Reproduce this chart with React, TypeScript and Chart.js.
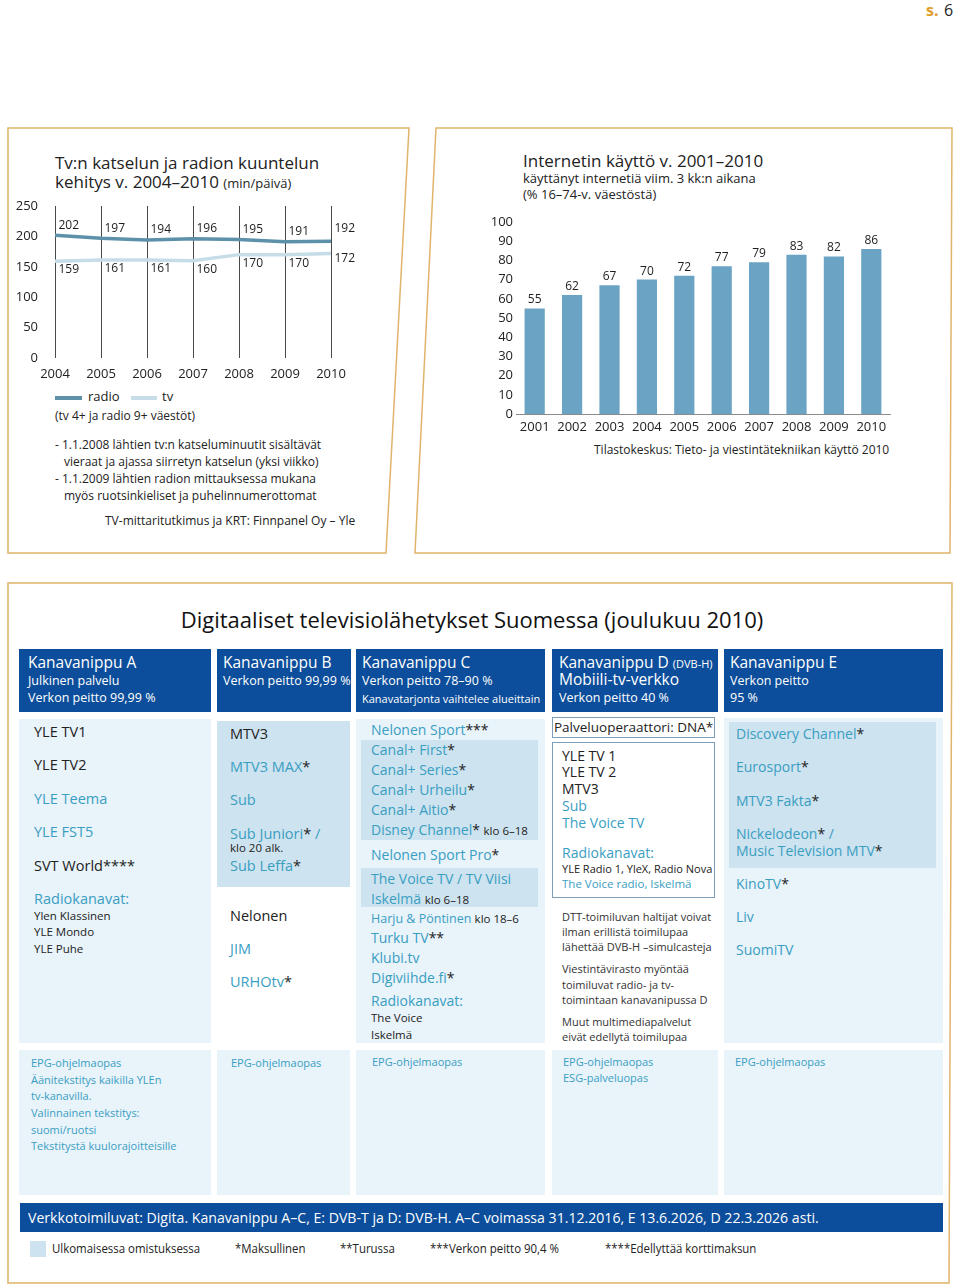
import React, { useEffect, useRef } from "react";
import { Chart, registerables } from "chart.js";

Chart.register(...registerables);

// ---------- data ----------
const tvYears = ["2004", "2005", "2006", "2007", "2008", "2009", "2010"];
const radioMinutes = [202, 197, 194, 196, 195, 191, 192];
const tvMinutes = [159, 161, 161, 160, 170, 170, 172];
const minuteTicks = [0, 50, 100, 150, 200, 250];

const netYears = ["2001", "2002", "2003", "2004", "2005", "2006", "2007", "2008", "2009", "2010"];
const netUsers = [55, 62, 67, 70, 72, 77, 79, 83, 82, 86];
const percentTicks = [0, 10, 20, 30, 40, 50, 60, 70, 80, 90, 100];

// ---------- style ----------
const FONT = "'Open Sans', sans-serif";
const DARK = "#222222";
const TEAL = "#3a9ec2";
const LIGHT = "#e8f3fa";
const MID = "#cde3ef";
const BLUE = "#0c4e9b";
const GOLD = "#e0b46a";
const RADIO = "#5d91aa";
const TVC = "#c6dde8";
const BAR = "#6aa3c3";

function LineChart() {
  const ref = useRef<HTMLCanvasElement>(null);
  useEffect(() => {
    const labels = {
      id: "pointLabels",
      afterDatasetsDraw(chart: any) {
        const ctx = chart.ctx;
        ctx.save();
        ctx.font = `12px ${FONT}`;
        ctx.fillStyle = "#1e1e1e";
        ctx.textAlign = "left";
        ctx.textBaseline = "middle";
        chart.data.datasets.forEach((ds: any, di: number) => {
          const meta = chart.getDatasetMeta(di);
          meta.data.forEach((pt: any, i: number) => {
            const last = i === meta.data.length - 1;
            const dy = di === 0 ? (last ? -13 : -10) : last ? 5.5 : 8.5;
            ctx.fillText(String(ds.data[i]), pt.x + 3.5, pt.y + dy);
          });
        });
        ctx.restore();
      },
    };
    const chart = new Chart(ref.current as HTMLCanvasElement, {
      type: "line",
      data: {
        labels: tvYears,
        datasets: [
          { label: "radio", data: radioMinutes, borderColor: RADIO, borderWidth: 3.5, pointRadius: 0, tension: 0 },
          { label: "tv", data: tvMinutes, borderColor: TVC, borderWidth: 3.5, pointRadius: 0, tension: 0 },
        ],
      },
      options: {
        animation: false,
        responsive: false,
        maintainAspectRatio: false,
        layout: { padding: { left: 0, top: 30, right: 29, bottom: 0 } },
        plugins: { legend: { display: false }, tooltip: { enabled: false } },
        scales: {
          x: {
            grid: { display: true, color: "#4a4a4a", lineWidth: 1, drawTicks: false },
            border: { display: false },
            ticks: { padding: 8, color: DARK, font: { family: FONT, size: 13 }, maxRotation: 0, autoSkip: false },
            afterFit: (s: any) => { s.height = 28; },
          },
          y: {
            min: 0,
            max: 250,
            grid: { display: false },
            border: { display: false },
            ticks: { padding: 9, color: DARK, font: { family: FONT, size: 13 } },
            afterBuildTicks: (s: any) => { s.ticks = minuteTicks.map((v) => ({ value: v })); },
            afterFit: (s: any) => { s.width = 55; },
          },
        },
      } as any,
      plugins: [labels],
    });
    return () => chart.destroy();
  }, []);
  return (
    <canvas ref={ref} width={360} height={210}
      style={{ position: "absolute", left: 0, top: 176, width: 360, height: 210 }} />
  );
}

function BarChart() {
  const ref = useRef<HTMLCanvasElement>(null);
  useEffect(() => {
    const labels = {
      id: "barLabels",
      afterDatasetsDraw(chart: any) {
        const ctx = chart.ctx;
        ctx.save();
        ctx.font = `12px ${FONT}`;
        ctx.fillStyle = "#1e1e1e";
        ctx.textAlign = "center";
        ctx.textBaseline = "middle";
        const meta = chart.getDatasetMeta(0);
        meta.data.forEach((bar: any, i: number) => {
          ctx.fillText(String(chart.data.datasets[0].data[i]), bar.x, bar.y - 8.5);
        });
        ctx.restore();
      },
    };
    const chart = new Chart(ref.current as HTMLCanvasElement, {
      type: "bar",
      data: {
        labels: netYears,
        datasets: [{ label: "internet", data: netUsers, backgroundColor: BAR, barPercentage: 0.54, categoryPercentage: 1 }],
      },
      options: {
        animation: false,
        responsive: false,
        maintainAspectRatio: false,
        layout: { padding: { left: 0, top: 22, right: 10, bottom: 0 } },
        plugins: { legend: { display: false }, tooltip: { enabled: false } },
        scales: {
          x: {
            grid: { display: false, drawTicks: false },
            border: { display: true, color: "#8c8c8c", width: 1 },
            ticks: { padding: 5, color: DARK, font: { family: FONT, size: 13 }, maxRotation: 0, autoSkip: false },
            afterFit: (s: any) => { s.height = 26; },
          },
          y: {
            min: 0,
            max: 100,
            grid: { display: false, drawTicks: false },
            border: { display: false },
            ticks: { padding: 3, color: DARK, font: { family: FONT, size: 13 } },
            afterBuildTicks: (s: any) => { s.ticks = percentTicks.map((v) => ({ value: v })); },
            afterFit: (s: any) => { s.width = 46; },
          },
        },
      } as any,
      plugins: [labels],
    });
    return () => chart.destroy();
  }, []);
  return (
    <canvas ref={ref} width={430} height={240}
      style={{ position: "absolute", left: 470, top: 200, width: 430, height: 240 }} />
  );
}

type TP = { x: number; y: number; s?: number; c?: string; b?: boolean; sx?: number; children?: any };
const T = ({ x, y, s = 13, c = DARK, b, sx, children }: TP) => (
  <div
    style={{
      position: "absolute",
      left: x,
      top: y - s * 0.58,
      fontSize: s,
      lineHeight: `${s * 1.1}px`,
      color: c,
      whiteSpace: "nowrap",
      fontWeight: b ? 700 : 400,
      transform: sx ? `scaleX(${sx})` : undefined,
      transformOrigin: "left center",
    }}
  >
    {children}
  </div>
);

const Box = ({ x, y, w, h, bg, border }: { x: number; y: number; w: number; h: number; bg?: string; border?: string }) => (
  <div style={{ position: "absolute", left: x, top: y, width: w, height: h, background: bg, border, boxSizing: "border-box" }} />
);

const St = ({ n = 1 }: { n?: number }) => <span style={{ color: DARK }}>{"*".repeat(n)}</span>;
const Sm = ({ children, s = 11.5 }: { children: any; s?: number }) => <span style={{ color: DARK, fontSize: s }}>{children}</span>;

export default function App() {
  const CH = 14.5; // channel font size
  const CC = 14; // column C / D size
  return (
    <div style={{ position: "absolute", left: 0, top: 0, width: 960, height: 1287, background: "#fff", fontFamily: FONT, overflow: "hidden" }}>
      <svg width={960} height={1287} style={{ position: "absolute", left: 0, top: 0 }}>
        <polygon points="8,128 409,128 386,553 8,553" fill="none" stroke={GOLD} strokeWidth={1.5} />
        <polygon points="436,128 952,128 950,553 415,553" fill="none" stroke={GOLD} strokeWidth={1.5} />
        <polygon points="8,583 952,583 949,1283 8,1283" fill="none" stroke={GOLD} strokeWidth={1.5} />
      </svg>

      {/* page number */}
      <T x={926} y={11} s={16} c="#e0a030" b>s.</T>
      <T x={944} y={11} s={16} c={DARK}>6</T>

      {/* ---------- left panel ---------- */}
      <T x={55} y={164} s={17}>Tv:n katselun ja radion kuuntelun</T>
      <T x={55} y={183} s={17}>kehitys v. 2004–2010 <span style={{ fontSize: 13 }}>(min/päivä)</span></T>
      <LineChart />
      <div style={{ position: "absolute", left: 55, top: 396, width: 27, height: 3.5, background: RADIO }} />
      <T x={88} y={397} s={13}>radio</T>
      <div style={{ position: "absolute", left: 131, top: 396, width: 26, height: 3.5, background: TVC }} />
      <T x={162} y={397} s={13}>tv</T>
      <T x={55} y={416} s={12}>(tv 4+ ja radio 9+ väestöt)</T>
      <T x={55} y={445} s={12}>- 1.1.2008 lähtien tv:n katseluminuutit sisältävät</T>
      <T x={64} y={462} s={12}>vieraat ja ajassa siirretyn katselun (yksi viikko)</T>
      <T x={55} y={479} s={12}>- 1.1.2009 lähtien radion mittauksessa mukana</T>
      <T x={64} y={496} s={12}>myös ruotsinkieliset ja puhelinnumerottomat</T>
      <T x={105} y={521} s={12}>TV-mittaritutkimus ja KRT: Finnpanel Oy – Yle</T>

      {/* ---------- right panel ---------- */}
      <T x={523} y={162} s={17}>Internetin käyttö v. 2001–2010</T>
      <T x={523} y={179} s={13}>käyttänyt internetiä viim. 3 kk:n aikana</T>
      <T x={523} y={195} s={13}>(% 16–74-v. väestöstä)</T>
      <BarChart />
      <T x={594} y={450} s={12}>Tilastokeskus: Tieto- ja viestintätekniikan käyttö 2010</T>

      {/* ---------- bottom panel ---------- */}
      <div style={{ position: "absolute", left: 72, width: 800, top: 619.5 - 22 * 0.58, fontSize: 22, lineHeight: `${22 * 1.1}px`, textAlign: "center", color: "#111", whiteSpace: "nowrap" }}>
        Digitaaliset televisiolähetykset Suomessa (joulukuu 2010)
      </div>

      {/* headers */}
      <Box x={19} y={649} w={192} h={63} bg={BLUE} />
      <Box x={217} y={649} w={134} h={63} bg={BLUE} />
      <Box x={356} y={649} w={189} h={63} bg={BLUE} />
      <Box x={552} y={649} w={166} h={63} bg={BLUE} />
      <Box x={724} y={649} w={219} h={63} bg={BLUE} />

      <T x={28} y={663} s={15.5} c="#fff">Kanavanippu A</T>
      <T x={28} y={681.5} s={12.5} c="#fff">Julkinen palvelu</T>
      <T x={28} y={698} s={12.5} c="#fff">Verkon peitto 99,99 %</T>
      <T x={223} y={663} s={15.5} c="#fff">Kanavanippu B</T>
      <T x={223} y={681.5} s={12.5} c="#fff">Verkon peitto 99,99 %</T>
      <T x={362} y={663} s={15.5} c="#fff">Kanavanippu C</T>
      <T x={362} y={681.5} s={12.5} c="#fff">Verkon peitto 78–90 %</T>
      <T x={362} y={699} s={11} c="#fff">Kanavatarjonta vaihtelee alueittain</T>
      <T x={559} y={663} s={15.5} c="#fff">Kanavanippu D <span style={{ fontSize: 11 }}>(DVB-H)</span></T>
      <T x={559} y={680} s={15.5} c="#fff">Mobiili-tv-verkko</T>
      <T x={559} y={698} s={12.5} c="#fff">Verkon peitto 40 %</T>
      <T x={730} y={663} s={15.5} c="#fff">Kanavanippu E</T>
      <T x={730} y={681.5} s={12.5} c="#fff">Verkon peitto</T>
      <T x={730} y={698} s={12.5} c="#fff">95 %</T>

      {/* body cells */}
      <Box x={19} y={719} w={192} h={324} bg={LIGHT} />
      <Box x={217} y={721} w={133} h={166} bg={MID} />
      <Box x={356} y={719} w={189} h={324} bg={LIGHT} />
      <Box x={361} y={740} w={177} h={100} bg={MID} />
      <Box x={361} y={868} w={177} h={39} bg={MID} />
      <Box x={552} y={717} w={163} h={21} border="1px solid #7d9db8" />
      <Box x={552} y={742} w={163} h={156} border="1px solid #7d9db8" />
      <Box x={724} y={718} w={219} h={325} bg={LIGHT} />
      <Box x={729} y={722} w={207} h={146} bg={MID} />

      {/* column A */}
      <T x={34} y={732} s={CH}>YLE TV1</T>
      <T x={34} y={765.5} s={CH}>YLE TV2</T>
      <T x={34} y={799} s={CH} c={TEAL}>YLE Teema</T>
      <T x={34} y={832} s={CH} c={TEAL}>YLE FST5</T>
      <T x={34} y={866} s={CH}>SVT World****</T>
      <T x={34} y={899} s={CH} c={TEAL}>Radiokanavat:</T>
      <T x={34} y={916.5} s={11.5}>Ylen Klassinen</T>
      <T x={34} y={933} s={11.5}>YLE Mondo</T>
      <T x={34} y={950} s={11.5}>YLE Puhe</T>

      {/* column B */}
      <T x={230} y={734} s={CH}>MTV3</T>
      <T x={230} y={767} s={CH} c={TEAL}>MTV3 MAX<St /></T>
      <T x={230} y={800.5} s={CH} c={TEAL}>Sub</T>
      <T x={230} y={834} s={CH} c={TEAL}>Sub Juniori<St /> /</T>
      <T x={230} y={848.5} s={11.5}>klo 20 alk.</T>
      <T x={230} y={866} s={CH} c={TEAL}>Sub Leffa<St /></T>
      <T x={230} y={916} s={CH}>Nelonen</T>
      <T x={230} y={949} s={CH} c={TEAL}>JIM</T>
      <T x={230} y={982} s={CH} c={TEAL}>URHOtv<St /></T>

      {/* column C */}
      <T x={371} y={730.5} s={CC} c={TEAL}>Nelonen Sport<St n={3} /></T>
      <T x={371} y={750.5} s={CC} c={TEAL}>Canal+ First<St /></T>
      <T x={371} y={770.5} s={CC} c={TEAL}>Canal+ Series<St /></T>
      <T x={371} y={790.5} s={CC} c={TEAL}>Canal+ Urheilu<St /></T>
      <T x={371} y={810.5} s={CC} c={TEAL}>Canal+ Aitio<St /></T>
      <T x={371} y={830.5} s={CC} c={TEAL}>Disney Channel<St /> <Sm>klo 6–18</Sm></T>
      <T x={371} y={855} s={CC} c={TEAL}>Nelonen Sport Pro<St /></T>
      <T x={371} y={879} s={CC} c={TEAL}>The Voice TV / TV Viisi</T>
      <T x={371} y={899} s={CC} c={TEAL}>Iskelmä <Sm>klo 6–18</Sm></T>
      <T x={371} y={919} s={12.5} c={TEAL}>Harju &amp; Pöntinen <Sm s={11.5}>klo 18–6</Sm></T>
      <T x={371} y={938.5} s={CC} c={TEAL}>Turku TV<St n={2} /></T>
      <T x={371} y={958} s={CC} c={TEAL}>Klubi.tv</T>
      <T x={371} y={978} s={CC} c={TEAL}>Digiviihde.fi<St /></T>
      <T x={371} y={1001} s={CC} c={TEAL}>Radiokanavat:</T>
      <T x={371} y={1019} s={11.5}>The Voice</T>
      <T x={371} y={1036} s={11.5}>Iskelmä</T>

      {/* column D */}
      <T x={554} y={728} s={13.5}>Palveluoperaattori: DNA*</T>
      <T x={562} y={756} s={CC}>YLE TV 1</T>
      <T x={562} y={772.5} s={CC}>YLE TV 2</T>
      <T x={562} y={789.5} s={CC}>MTV3</T>
      <T x={562} y={806} s={CC} c={TEAL}>Sub</T>
      <T x={562} y={823} s={CC} c={TEAL}>The Voice TV</T>
      <T x={562} y={853} s={CC} c={TEAL}>Radiokanavat:</T>
      <T x={562} y={869.5} s={11}>YLE Radio 1, YleX, Radio Nova</T>
      <T x={562} y={885} s={11.5} c={TEAL}>The Voice radio, Iskelmä</T>
      <T x={562} y={917} s={11} c="#333">DTT-toimiluvan haltijat voivat</T>
      <T x={562} y={932} s={11} c="#333">ilman erillistä toimilupaa</T>
      <T x={562} y={947.5} s={11} c="#333">lähettää DVB-H –simulcasteja</T>
      <T x={562} y={969.5} s={11} c="#333">Viestintävirasto myöntää</T>
      <T x={562} y={985.5} s={11} c="#333">toimiluvat radio- ja tv-</T>
      <T x={562} y={1000.5} s={11} c="#333">toimintaan kanavanipussa D</T>
      <T x={562} y={1022.5} s={11} c="#333">Muut multimediapalvelut</T>
      <T x={562} y={1037.5} s={11} c="#333">eivät edellytä toimilupaa</T>

      {/* column E */}
      <T x={736} y={734} s={CC} c={TEAL}>Discovery Channel<St /></T>
      <T x={736} y={767.5} s={CC} c={TEAL}>Eurosport<St /></T>
      <T x={736} y={801} s={CC} c={TEAL}>MTV3 Fakta<St /></T>
      <T x={736} y={834} s={CC} c={TEAL}>Nickelodeon<St /> /</T>
      <T x={736} y={851} s={CC} c={TEAL}>Music Television MTV<St /></T>
      <T x={736} y={884} s={CC} c={TEAL}>KinoTV<St /></T>
      <T x={736} y={917} s={CC} c={TEAL}>Liv</T>
      <T x={736} y={950} s={CC} c={TEAL}>SuomiTV</T>

      {/* footer cells */}
      <Box x={19} y={1050} w={192} h={145} bg={LIGHT} />
      <Box x={217} y={1050} w={133} h={145} bg={LIGHT} />
      <Box x={356} y={1050} w={189} h={145} bg={LIGHT} />
      <Box x={552} y={1050} w={166} h={145} bg={LIGHT} />
      <Box x={724} y={1050} w={219} h={145} bg={LIGHT} />
      <T x={31} y={1063} s={11} c={TEAL}>EPG-ohjelmaopas</T>
      <T x={31} y={1080} s={11} c={TEAL}>Äänitekstitys kaikilla YLEn</T>
      <T x={31} y={1096.5} s={11} c={TEAL}>tv-kanavilla.</T>
      <T x={31} y={1113.5} s={11} c={TEAL}>Valinnainen tekstitys:</T>
      <T x={31} y={1130} s={11} c={TEAL}>suomi/ruotsi</T>
      <T x={31} y={1146.5} s={11} c={TEAL}>Tekstitystä kuulorajoitteisille</T>
      <T x={231} y={1063} s={11} c={TEAL}>EPG-ohjelmaopas</T>
      <T x={372} y={1062.5} s={11} c={TEAL}>EPG-ohjelmaopas</T>
      <T x={563} y={1062.5} s={11} c={TEAL}>EPG-ohjelmaopas</T>
      <T x={563} y={1078} s={11} c={TEAL}>ESG-palveluopas</T>
      <T x={735} y={1062} s={11} c={TEAL}>EPG-ohjelmaopas</T>

      {/* banner */}
      <Box x={20} y={1203} w={923} h={29} bg={BLUE} />
      <T x={28} y={1218} s={15} c="#fff" sx={0.94}>
        Verkkotoimiluvat: Digita. Kanavanippu A–C, E: DVB-T ja D: DVB-H. A–C voimassa 31.12.2016, E 13.6.2026, D 22.3.2026 asti.
      </T>

      {/* legend */}
      <Box x={30} y={1241} w={16} h={16} bg={MID} />
      <T x={52} y={1249} s={13} sx={0.88}>Ulkomaisessa omistuksessa</T>
      <T x={235} y={1249} s={13} sx={0.88}>*Maksullinen</T>
      <T x={340} y={1249} s={13} sx={0.88}>**Turussa</T>
      <T x={430} y={1249} s={13} sx={0.88}>***Verkon peitto 90,4 %</T>
      <T x={605} y={1249} s={13} sx={0.88}>****Edellyttää korttimaksun</T>
    </div>
  );
}
